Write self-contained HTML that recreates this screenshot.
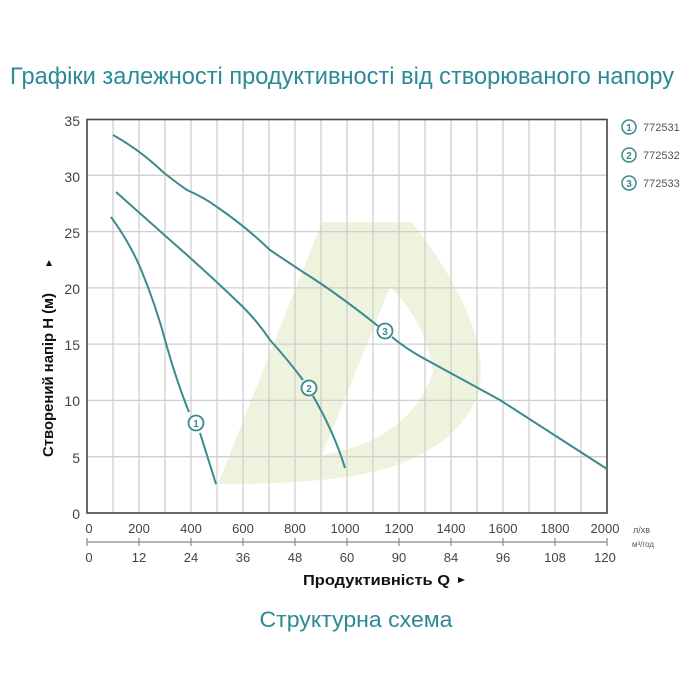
<!DOCTYPE html>
<html><head><meta charset="utf-8"><style>html,body{margin:0;padding:0;background:#fff}svg{display:block}</style></head><body>
<svg width="700" height="700" viewBox="0 0 700 700" xmlns="http://www.w3.org/2000/svg" font-family="Liberation Sans, DejaVu Sans, sans-serif">
<rect width="700" height="700" fill="#fff"/>
<text x="10" y="84" font-size="24" fill="#2a8a96" textLength="664" lengthAdjust="spacingAndGlyphs">Графіки залежності продуктивності від створюваного напору</text>
<path d="M218,484 L322,222 L412,222 Q495,330 478,395 Q455,450 380,470 Q330,484 218,484 Z M390,287 L322,455 Q410,440 433,372 Q425,320 390,287 Z" fill="#eef3dd" fill-rule="evenodd"/>
<g stroke="#cfcfcf" stroke-width="1.3">
<line x1="113" y1="119" x2="113" y2="513"/><line x1="139" y1="119" x2="139" y2="513"/><line x1="165" y1="119" x2="165" y2="513"/><line x1="191" y1="119" x2="191" y2="513"/><line x1="217" y1="119" x2="217" y2="513"/><line x1="243" y1="119" x2="243" y2="513"/><line x1="269" y1="119" x2="269" y2="513"/><line x1="295" y1="119" x2="295" y2="513"/><line x1="321" y1="119" x2="321" y2="513"/><line x1="347" y1="119" x2="347" y2="513"/><line x1="373" y1="119" x2="373" y2="513"/><line x1="399" y1="119" x2="399" y2="513"/><line x1="425" y1="119" x2="425" y2="513"/><line x1="451" y1="119" x2="451" y2="513"/><line x1="477" y1="119" x2="477" y2="513"/><line x1="503" y1="119" x2="503" y2="513"/><line x1="529" y1="119" x2="529" y2="513"/><line x1="555" y1="119" x2="555" y2="513"/><line x1="581" y1="119" x2="581" y2="513"/>
<line x1="87" y1="175.3" x2="607" y2="175.3"/><line x1="87" y1="231.6" x2="607" y2="231.6"/><line x1="87" y1="287.9" x2="607" y2="287.9"/><line x1="87" y1="344.1" x2="607" y2="344.1"/><line x1="87" y1="400.4" x2="607" y2="400.4"/><line x1="87" y1="456.7" x2="607" y2="456.7"/>
</g>
<rect x="87" y="119.5" width="520" height="393.5" fill="none" stroke="#444" stroke-width="1.6"/>
<g font-size="14" fill="#444" text-anchor="end">
<text x="80" y="126">35</text><text x="80" y="182">30</text><text x="80" y="238">25</text><text x="80" y="294">20</text><text x="80" y="350">15</text><text x="80" y="406">10</text><text x="80" y="463">5</text><text x="80" y="519">0</text>
</g>
<text transform="translate(53,375) rotate(-90)" font-size="15" font-weight="bold" fill="#111" text-anchor="middle" textLength="164" lengthAdjust="spacingAndGlyphs">Створений напір Н (м)</text>
<path d="M46,266 L52,266 L49,260 Z" fill="#111"/>
<g font-size="13" fill="#444" text-anchor="middle">
<text x="89" y="533">0</text><text x="139" y="533">200</text><text x="191" y="533">400</text><text x="243" y="533">600</text><text x="295" y="533">800</text><text x="345" y="533">1000</text><text x="399" y="533">1200</text><text x="451" y="533">1400</text><text x="503" y="533">1600</text><text x="555" y="533">1800</text><text x="605" y="533">2000</text>
<text x="89" y="562">0</text><text x="139" y="562">12</text><text x="191" y="562">24</text><text x="243" y="562">36</text><text x="295" y="562">48</text><text x="347" y="562">60</text><text x="399" y="562">90</text><text x="451" y="562">84</text><text x="503" y="562">96</text><text x="555" y="562">108</text><text x="605" y="562">120</text>
</g>
<g stroke="#888" stroke-width="1.2">
<line x1="87" y1="542" x2="607" y2="542"/>
<line x1="87" y1="538" x2="87" y2="546"/><line x1="139" y1="538" x2="139" y2="546"/><line x1="191" y1="538" x2="191" y2="546"/><line x1="243" y1="538" x2="243" y2="546"/><line x1="295" y1="538" x2="295" y2="546"/><line x1="347" y1="538" x2="347" y2="546"/><line x1="399" y1="538" x2="399" y2="546"/><line x1="451" y1="538" x2="451" y2="546"/><line x1="503" y1="538" x2="503" y2="546"/><line x1="555" y1="538" x2="555" y2="546"/><line x1="607" y1="538" x2="607" y2="546"/>
</g>
<text x="633" y="533" font-size="9" fill="#555">л/хв</text>
<text x="632" y="547" font-size="8" fill="#555">м³/год</text>
<text x="303" y="585" font-size="15" font-weight="bold" fill="#111" textLength="147" lengthAdjust="spacingAndGlyphs">Продуктивність Q</text>
<path d="M458,577 L458,583 L465,580 Z" fill="#111"/>
<text x="356" y="627" font-size="22" fill="#2a8a96" text-anchor="middle" textLength="193" lengthAdjust="spacingAndGlyphs">Структурна схема</text>
<g fill="none" stroke="#3a8a8e" stroke-width="2">
<path d="M111,217 Q128,240 140,267 Q156,305 167,347 Q178,385 189,412 M200,433 L216,484"/>
<path d="M116,192 Q142,215 170,240 Q210,275 243,307 Q258,322 270,340 Q288,360 303,380 M313,396 Q334,432 345,468"/>
<path d="M113,135 Q140,150 163,172 Q178,184 187,190 Q205,198 217,207 Q245,226 270,250 Q295,267 320,283 Q348,302 378,326 M392,337 Q405,348 423,358 Q460,378 500,400 L607,469"/>
</g>
<g fill="#fff" stroke="#3a8a8e" stroke-width="1.8">
<circle cx="196" cy="423" r="7.5"/><circle cx="309" cy="388" r="7.5"/><circle cx="385" cy="331" r="7.5"/>
</g>
<g fill="#3a8a8e" font-size="10" font-weight="bold" text-anchor="middle">
<text x="196" y="427">1</text><text x="309" y="392">2</text><text x="385" y="335">3</text>
</g>
<g fill="#fff" stroke="#3a8a8e" stroke-width="1.5">
<circle cx="629" cy="127" r="7"/><circle cx="629" cy="155" r="7"/><circle cx="629" cy="183" r="7"/>
</g>
<g fill="#3a8a8e" font-size="10" font-weight="bold" text-anchor="middle">
<text x="629" y="131">1</text><text x="629" y="159">2</text><text x="629" y="187">3</text>
</g>
<g fill="#555" font-size="11">
<text x="643" y="131">772531</text><text x="643" y="159">772532</text><text x="643" y="187">772533</text>
</g>
</svg>
</body></html>
